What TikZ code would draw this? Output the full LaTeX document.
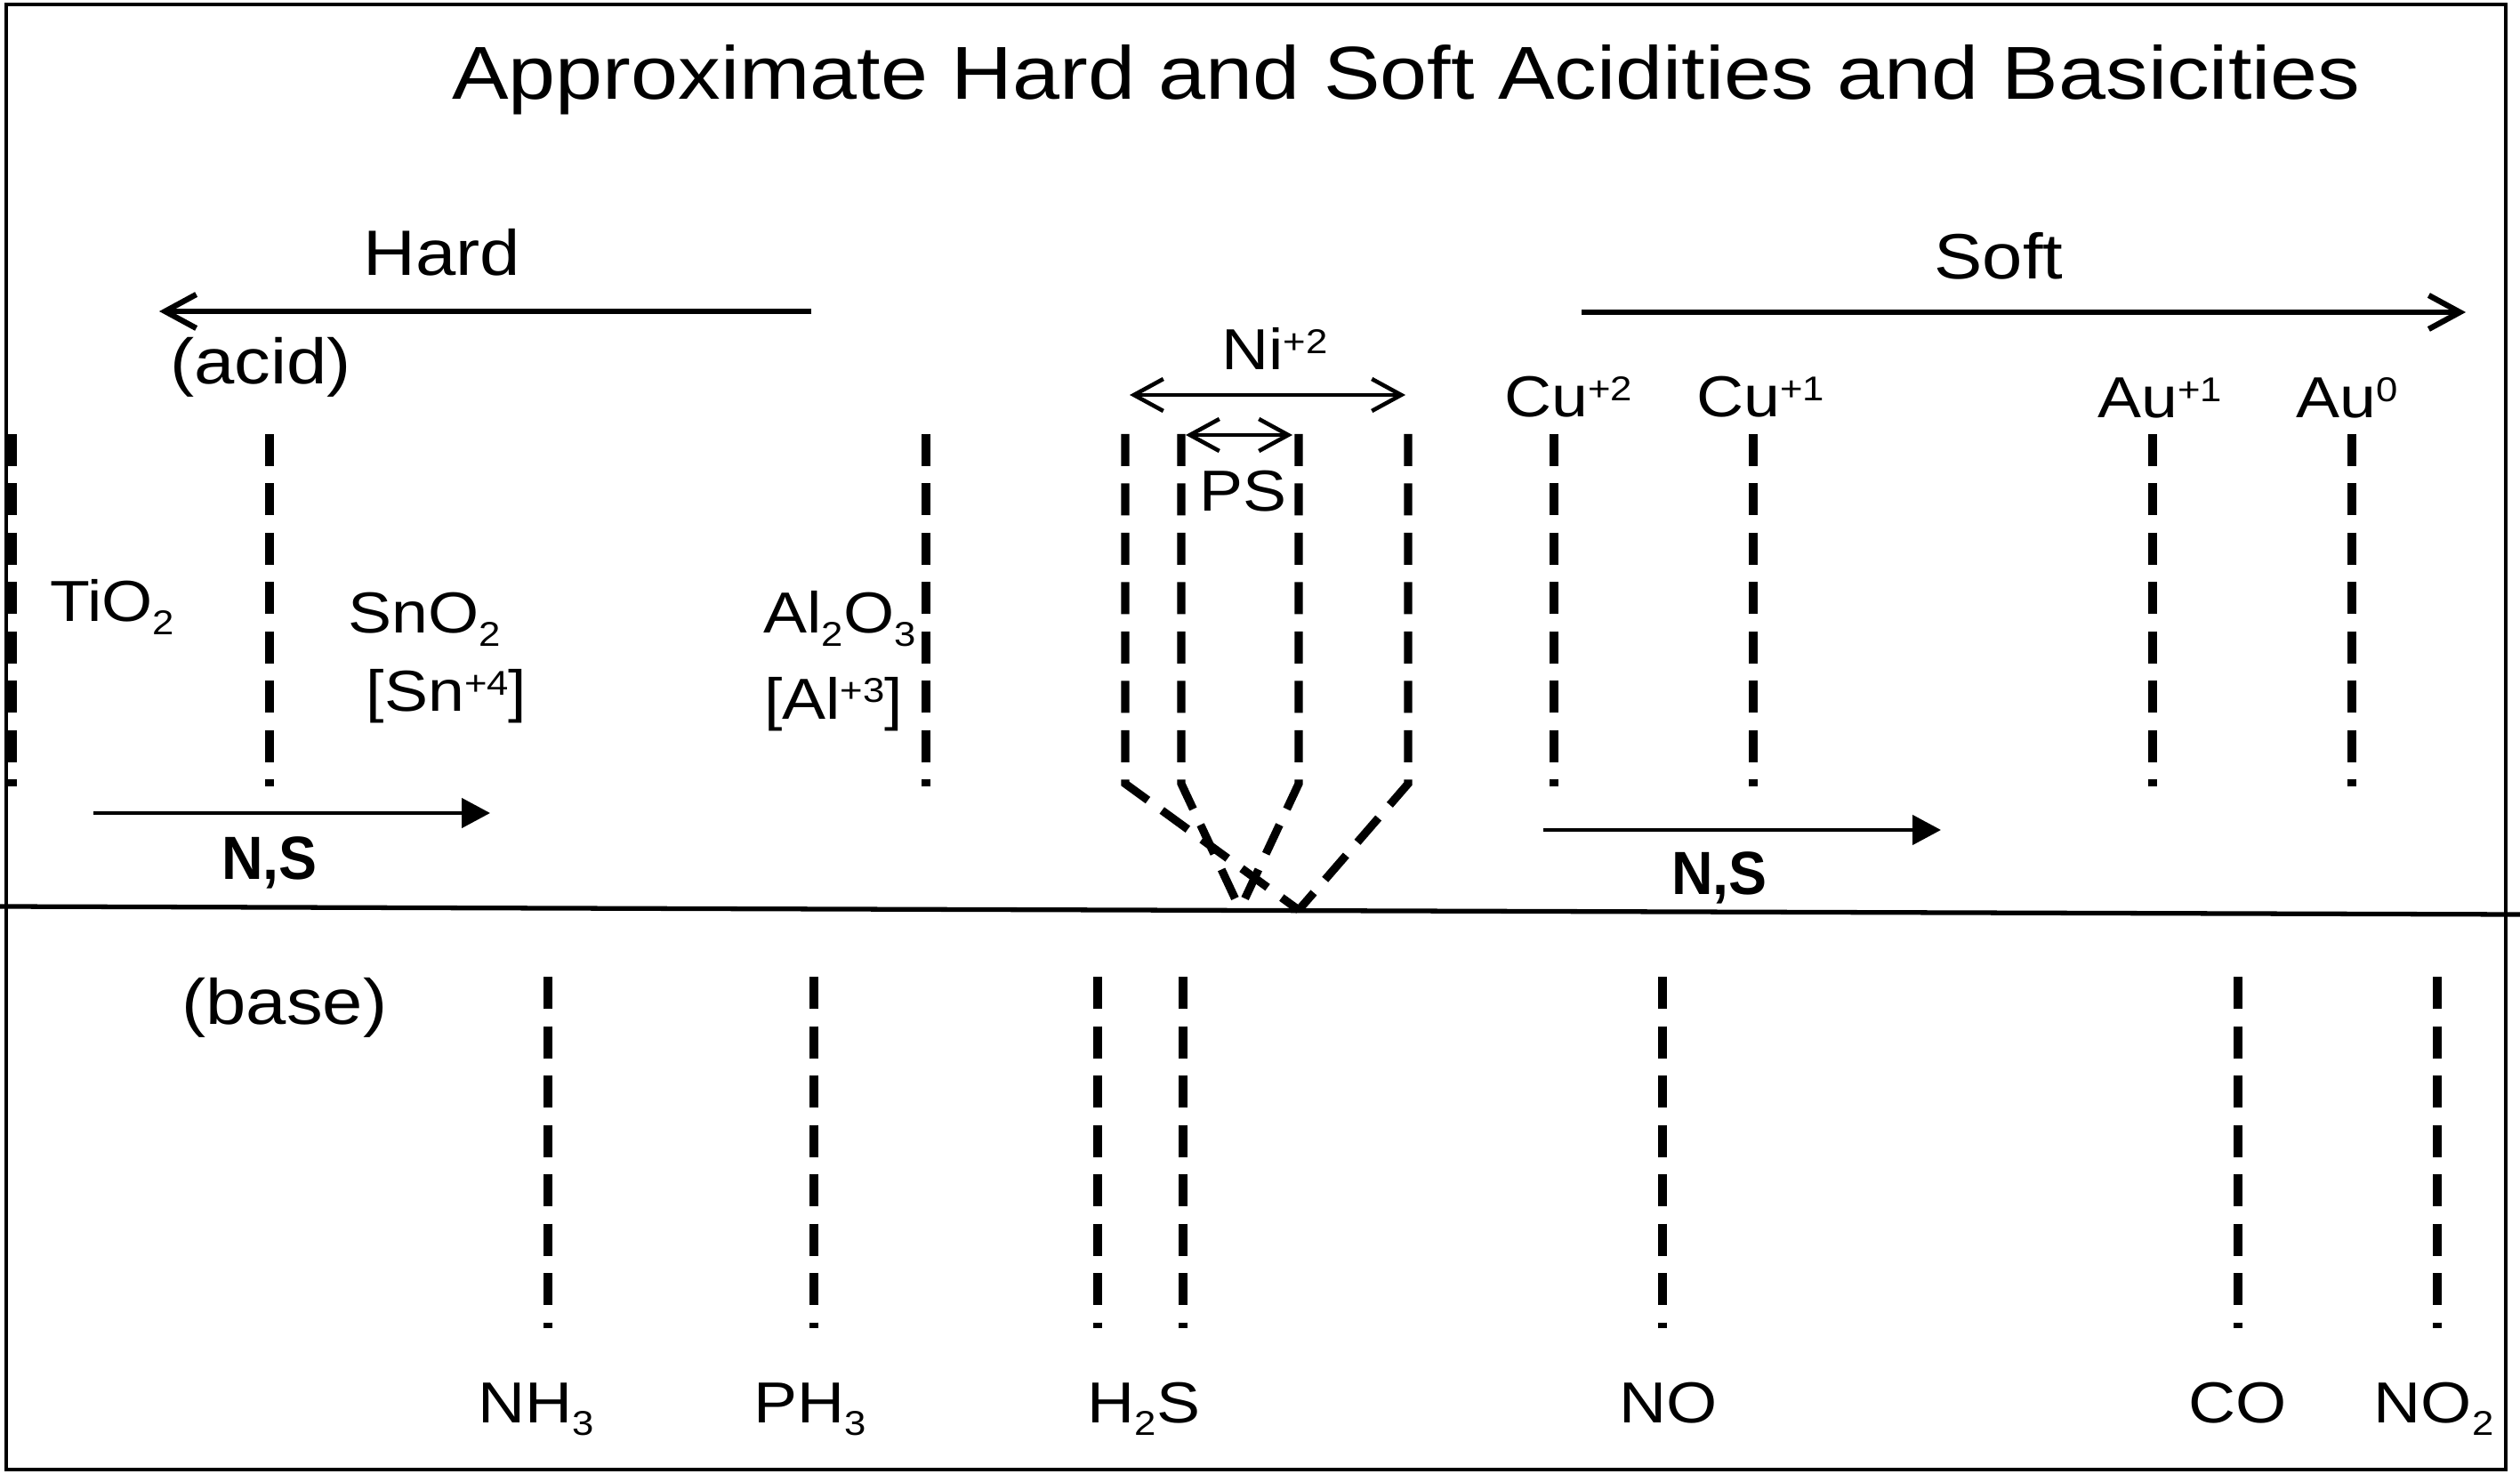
\documentclass[tikz,border=0pt]{standalone}
\usepackage{fontspec}
\setmainfont{Liberation Sans}[FakeStretch=1.13]
\newfontfamily\nsfont{Liberation Sans}[FakeStretch=0.94]
\usetikzlibrary{graphs}
\usetikzlibrary{arrows.meta}
\newcommand\chsub[1]{\raisebox{-4pt}{\fontsize{11}{12}\selectfont #1}}
\newcommand\chsup[1]{\raisebox{5.3pt}{\fontsize{11}{12}\selectfont #1}}
\tikzset{
  head/.style= {font=\fontsize{24}{28}\selectfont, anchor=base},
  lbl/.style= {font=\fontsize{20.5}{24}\selectfont, anchor=base},
  chem/.style= {font=\fontsize{18.5}{22}\selectfont, anchor=base, inner sep=0},
  nslbl/.style= {font=\fontsize{19.5}{22}\nsfont\bfseries, anchor=base},
  guide/.style= {line width=2.6pt, dash pattern=on 3.6mm off 1.95mm},
  hsarrow/.style= {line width=1.8pt, >={Straight Barb[length=3.5mm,width=3.8mm]}},
  nsarrow/.style= {line width=1.3pt, >={Triangle[length=3.2mm,width=3.3mm]}},
  rng/.style= {line width=1.3pt, >={Straight Barb[length=3.3mm,width=3.6mm]}},
}

\begin{document}
\begin{tikzpicture}
  \useasboundingbox (0,0) rectangle (28.33,16.65);
  \draw [line width=1.2pt] (0.07,0.13) rectangle (28.17,16.60);
  \draw [line width=1.5pt] (0,6.46) -- (28.33,6.37);

  \node [head] (title) at (15.81,15.53) {Approximate Hard and Soft Acidities and Basicities};
  \node [lbl] (hard) at (4.97,13.55) {Hard};
  \node [lbl] (soft) at (22.47,13.51) {Soft};
  \node [lbl] (acid) at (2.93,12.33) {(acid)};
  \node [lbl] (base) at (3.20,5.14) {(base)};

  \node [chem] (tio) at (1.26,9.66) {TiO\chsub{2}};
  \node [chem] (sno) at (4.77,9.53) {SnO\chsub{2}};
  \node [chem] (sn) at (5.02,8.65) {[Sn\chsup{+4}]};
  \node [chem] (alo) at (9.44,9.53) {Al\chsub{2}O\chsub{3}};
  \node [chem] (al) at (9.37,8.57) {[Al\chsup{+3}]};
  \node [chem] (ni) at (14.33,12.49) {Ni\chsup{+2}};
  \node [chem] (ps) at (13.97,10.90) {PS};
  \node [chem] (cu2) at (17.63,11.96) {Cu\chsup{+2}};
  \node [chem] (cu1) at (19.79,11.96) {Cu\chsup{+1}};
  \node [chem] (au1) at (24.28,11.95) {Au\chsup{+1}};
  \node [chem] (au0) at (26.39,11.95) {Au\chsup{0}};
  \node [chem] (nh3) at (6.03,0.66) {NH\chsub{3}};
  \node [chem] (ph3) at (9.11,0.66) {PH\chsub{3}};
  \node [chem] (h2s) at (12.86,0.66) {H\chsub{2}S};
  \node [chem] (no) at (18.76,0.66) {NO};
  \node [chem] (co) at (25.16,0.66) {CO};
  \node [chem] (no2) at (27.36,0.66) {NO\chsub{2}};
  \node [nslbl] (nsa) at (3.03,6.77) {N,S};
  \node [nslbl] (nsb) at (19.33,6.60) {N,S};

  \coordinate (hardR) at (9.12,13.15);
  \coordinate (hardL) at (1.79,13.15);
  \coordinate (softL) at (17.78,13.14);
  \coordinate (softR) at (27.72,13.14);
  \coordinate (nsaL) at (1.05,7.51);
  \coordinate (nsaR) at (5.51,7.51);
  \coordinate (nsbL) at (17.35,7.32);
  \coordinate (nsbR) at (21.82,7.32);
  \coordinate (niL) at (12.70,12.21);
  \coordinate (niR) at (15.80,12.21);
  \coordinate (psL) at (13.33,11.76);
  \coordinate (psR) at (14.53,11.76);
  \coordinate (vL) at (13.94,6.43);
  \coordinate (vR) at (14.60,6.42);

  \graph {
    { [edges={hsarrow}] (hardR) -> (hardL), (softL) -> (softR) } ;
    { [edges={nsarrow}] (nsaL) -> (nsaR), (nsbL) -> (nsbR) } ;
    { [edges={rng}] (niL) <-> (niR), (psL) <-> (psR) } ;
  } ;

  % acid side
  \draw [guide] (0.14,11.77) -- (0.14,7.81);
  \draw [guide] (3.03,11.77) -- (3.03,7.81);
  \draw [guide] (10.41,11.77) -- (10.41,7.81);
  \draw [guide] (12.65,11.77) -- (12.65,7.84) -- (vR);
  \draw [guide] (13.28,11.77) -- (13.28,7.84) -- (vL);
  \draw [guide] (14.60,11.77) -- (14.60,7.84) -- (vL);
  \draw [guide] (15.83,11.77) -- (15.83,7.84) -- (vR);
  \draw [guide] (17.47,11.77) -- (17.47,7.81);
  \draw [guide] (19.71,11.77) -- (19.71,7.81);
  \draw [guide] (24.20,11.77) -- (24.20,7.81);
  \draw [guide] (26.44,11.77) -- (26.44,7.81);

  % base side
  \draw [guide] (6.16,5.67) -- (6.16,1.72);
  \draw [guide] (9.15,5.67) -- (9.15,1.72);
  \draw [guide] (12.34,5.67) -- (12.34,1.72);
  \draw [guide] (13.30,5.67) -- (13.30,1.72);
  \draw [guide] (18.69,5.67) -- (18.69,1.72);
  \draw [guide] (25.16,5.67) -- (25.16,1.72);
  \draw [guide] (27.40,5.67) -- (27.40,1.72);
\end{tikzpicture}
\end{document}
